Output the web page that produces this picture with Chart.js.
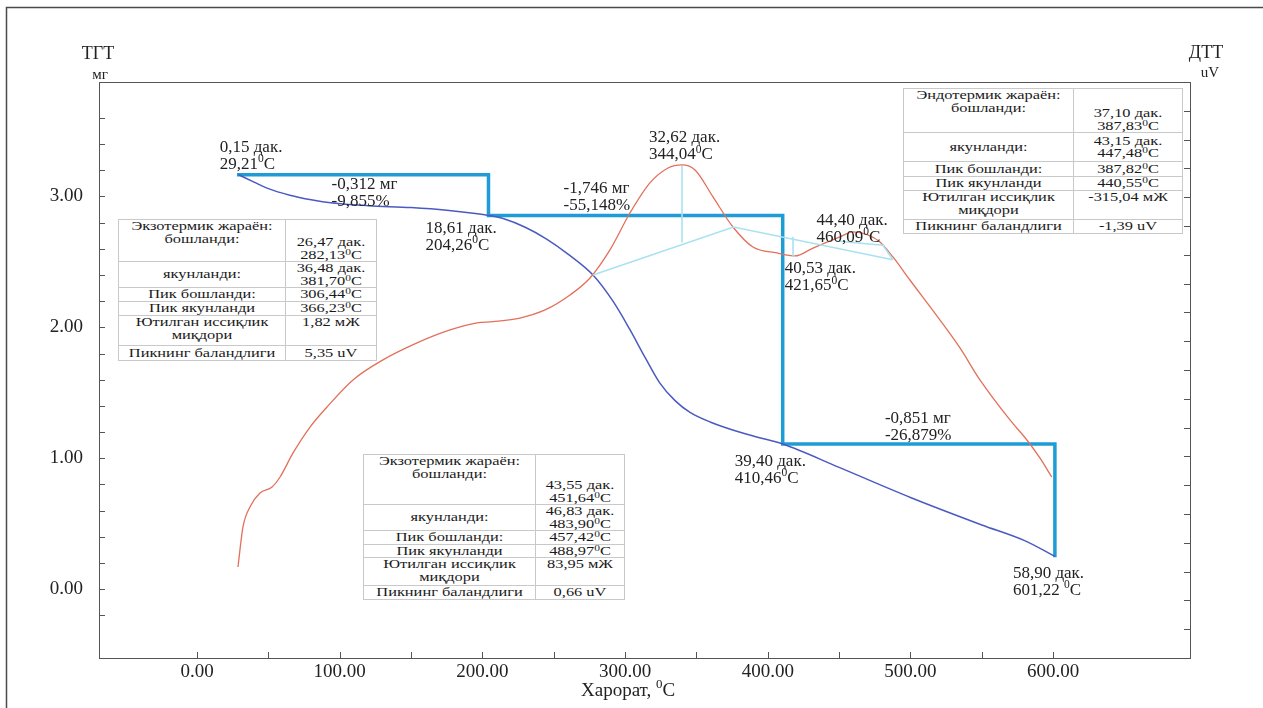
<!DOCTYPE html>
<html><head><meta charset="utf-8">
<script src="https://cdn.jsdelivr.net/npm/chart.js@4.4.1/dist/chart.umd.min.js"></script>
<style>
body{margin:0;background:#fff;}
#wrap{position:relative;width:1263px;height:708px;overflow:hidden;background:#fff;}
#c{position:absolute;left:0;top:0;}
.tbl{position:absolute;font-family:'Liberation Serif',serif;font-size:13px;line-height:12.5px;color:#1a1a1a;background:#fff;border:1px solid #c9c9c9;box-sizing:border-box;}
.row{display:flex;border-top:1px solid #c9c9c9;box-sizing:border-box;overflow:hidden;}
.row:first-child{border-top:none;}
.cell{display:flex;flex-direction:column;text-align:center;box-sizing:border-box;height:100%;}
.cell div{transform:scaleX(1.26);transform-origin:50% 50%;white-space:nowrap;}
.cl{border-right:1px solid #c9c9c9;}
.top{justify-content:flex-start;}
.mid{justify-content:center;}
.bot{justify-content:flex-end;}
sup{font-size:70%;line-height:0;vertical-align:0.45em;}
</style></head>
<body>
<div id="wrap">
<canvas id="c" width="1263" height="708"></canvas>
</div>
<script>
// ---------- data ----------
const tgaTemp = [29.2, 40, 50, 65, 80, 95, 120, 150, 175, 195, 204.3, 215, 230, 245, 260, 277.5, 291.5, 303, 314, 324, 335, 345.5, 360, 380, 395, 410.5, 450, 500, 550, 580, 601.2];
const tgaMass = [3.166, 3.11, 3.06, 3.01, 2.975, 2.95, 2.93, 2.915, 2.895, 2.87, 2.855, 2.83, 2.765, 2.675, 2.56, 2.40, 2.20, 1.99, 1.77, 1.58, 1.44, 1.35, 1.275, 1.20, 1.155, 1.108, 0.93, 0.70, 0.49, 0.37, 0.25];

const dtaTemp = [28.7, 32.2, 37.1, 44.1, 52.6, 58.2, 67.3, 79.2, 91.1, 109.3, 130.3, 154.2, 177.3, 196.2, 207.4, 226.3, 243.9, 261.4, 275.4, 289.4, 303.4, 317.4, 330.1, 339.9, 349, 361.6, 375.6, 389.6, 406.4, 419, 431.7, 450.6, 459.7, 470.2, 478.6, 487.7, 499.6, 520.7, 534.7, 548.7, 569.7, 581.6, 590.7, 599];
const dtaSignal = [-0.14, 2.64, 4.03, 5.0, 5.42, 6.11, 7.78, 9.58, 10.97, 12.85, 14.24, 15.42, 16.32, 16.81, 16.9, 17.15, 17.71, 18.75, 19.93, 21.88, 24.44, 26.53, 27.57, 27.78, 27.43, 25.56, 23.47, 22.08, 21.67, 21.46, 22.01, 22.78, 23.13, 22.92, 22.43, 21.39, 19.79, 17.01, 15.07, 12.85, 10.07, 8.68, 7.43, 6.11];

// baseline / peak construction lines on the DTA curve (null = break)
const baseTemp   = [277.5, 376, 487.7, null, 339.9, 339.9, null, 417.7, 417.7, null, 447.8, 480.7, 487.7];
const baseSignal = [20.14, 23.47, 21.2, null, 27.7, 22.4, null, 22.8, 21.4, null, 22.5, 22.2, 21.2];

// TG steps
const initialMass = 3.166;
const stepTemps = [29.21, 204.26, 410.46, 601.22];
const massLosses = [0.312, 1.746, 0.851];

// tick labels
const xLabelValues = [0, 100, 200, 300, 400, 500, 600];
const tgLabelValues = [0, 1, 2, 3];
const dtaLabelValues = [0, 10, 20, 30];

// annotation labels
const labelTexts = [
  ['0,15 дак.', '29,21⁰C'],
  ['-0,312 мг', '-9,855%'],
  ['18,61 дак.', '204,26⁰C'],
  ['-1,746 мг', '-55,148%'],
  ['32,62 дак.', '344,04⁰C'],
  ['44,40 дак.', '460,09⁰C'],
  ['40,53 дак.', '421,65⁰C'],
  ['-0,851 мг', '-26,879%'],
  ['39,40 дак.', '410,46⁰C'],
  ['58,90 дак.', '601,22 ⁰C']
];

// tables
const table1 = [
  ['Экзотермик жараён:|бошланди:', '26,47 дак.|282,13⁰C'],
  ['якунланди:', '36,48 дак.|381,70⁰C'],
  ['Пик бошланди:', '306,44⁰C'],
  ['Пик якунланди', '366,23⁰C'],
  ['Ютилган иссиқлик|миқдори', '1,82 мЖ'],
  ['Пикнинг баландлиги', '5,35 uV']
];
const table2 = [
  ['Эндотермик жараён:|бошланди:', '37,10 дак.|387,83⁰C'],
  ['якунланди:', '43,15 дак.|447,48⁰C'],
  ['Пик бошланди:', '387,82⁰C'],
  ['Пик якунланди', '440,55⁰C'],
  ['Ютилган иссиқлик|миқдори', '-315,04 мЖ'],
  ['Пикнинг баландлиги', '-1,39 uV']
];
const table3 = [
  ['Экзотермик жараён:|бошланди:', '43,55 дак.|451,64⁰C'],
  ['якунланди:', '46,83 дак.|483,90⁰C'],
  ['Пик бошланди:', '457,42⁰C'],
  ['Пик якунланди', '488,97⁰C'],
  ['Ютилган иссиқлик|миқдори', '83,95 мЖ'],
  ['Пикнинг баландлиги', '0,66 uV']
];

// ---------- build ----------
const pts = (xs, ys) => xs.map((x, i) => ({x: x, y: ys[i]}));
const stepPts = [];
let m = initialMass;
stepPts.push({x: stepTemps[0], y: m});
massLosses.forEach((d, i) => {
  stepPts.push({x: stepTemps[i + 1], y: m});
  m = +(m - d).toFixed(3);
  stepPts.push({x: stepTemps[i + 1], y: m});
});
const basePts = [];
baseTemp.forEach((t, i) => { if (t === null) basePts.push({x: baseTemp[i-1], y: null}); else basePts.push({x: t, y: baseSignal[i]}); });

// label anchors: [scale, x value, y value, dx, dy]
const massAfter = [initialMass, initialMass - massLosses[0], initialMass - massLosses[0] - massLosses[1], initialMass - massLosses[0] - massLosses[1] - massLosses[2]];
const labelAnchors = [
  ['y', stepTemps[0], massAfter[0], -19, -27],
  ['y', stepTemps[1], massAfter[0], -157, 10],
  ['y', stepTemps[1], massAfter[1], -63, 13],
  ['y', stepTemps[1], massAfter[1], 75, -27],
  ['y2', 344.04, 27.78, -39, -27],
  ['y2', 460.09, 23.13, -37, -11],
  ['y2', 421.65, 21.46, -14, 13],
  ['y', stepTemps[3], massAfter[2], -170, -26],
  ['y', stepTemps[2], massAfter[2], -48, 17],
  ['y', stepTemps[3], massAfter[3], -42, 18]
];

const SERIF = "'Liberation Serif', 'Times New Roman', serif";

function richWidth(ctx, str, size) {
  let w = 0;
  for (const ch of str) {
    if (ch === '⁰') { ctx.font = (size * 0.68) + 'px ' + SERIF; w += ctx.measureText('0').width; }
    else { ctx.font = size + 'px ' + SERIF; w += ctx.measureText(ch).width; }
  }
  return w;
}
function drawRich(ctx, str, x, y, size, align) {
  let w = richWidth(ctx, str, size);
  let cx = align === 'center' ? x - w / 2 : (align === 'right' ? x - w : x);
  ctx.textAlign = 'left';
  ctx.textBaseline = 'middle';
  let buf = '';
  const flush = () => { if (buf) { ctx.font = size + 'px ' + SERIF; ctx.fillText(buf, cx, y); cx += ctx.measureText(buf).width; buf = ''; } };
  for (const ch of str) {
    if (ch === '⁰') {
      flush();
      ctx.font = (size * 0.68) + 'px ' + SERIF;
      ctx.fillText('0', cx, y - size * 0.32);
      cx += ctx.measureText('0').width;
    } else buf += ch;
  }
  flush();
}

const decor = {
  id: 'decor',
  afterDraw(chart) {
    const ctx = chart.ctx, a = chart.chartArea;
    ctx.save();
    // outer frame
    ctx.strokeStyle = '#4a4a4a'; ctx.lineWidth = 1.5;
    ctx.beginPath(); ctx.moveTo(6.5, 708); ctx.lineTo(6.5, 7.5); ctx.lineTo(1263, 7.5); ctx.stroke();
    // plot frame
    ctx.strokeStyle = '#555'; ctx.lineWidth = 1;
    ctx.strokeRect(Math.round(a.left) + 0.5, Math.round(a.top) + 0.5, Math.round(a.right - a.left), Math.round(a.bottom - a.top));
    // inward ticks
    const L = 6;
    ['x', 'y', 'y2'].forEach(id => {
      const s = chart.scales[id];
      s.ticks.forEach(t => {
        const p = Math.round(s.getPixelForValue(t.value)) + 0.5;
        ctx.beginPath();
        if (id === 'x') { ctx.moveTo(p, a.bottom); ctx.lineTo(p, a.bottom - L); }
        else if (id === 'y') { ctx.moveTo(a.left, p); ctx.lineTo(a.left + L, p); }
        else { ctx.moveTo(a.right, p); ctx.lineTo(a.right - L, p); }
        ctx.stroke();
      });
    });
    // axis titles
    ctx.fillStyle = '#222';
    drawRich(ctx, 'ТГТ', 98, 54, 18, 'center');
    drawRich(ctx, 'мг', 100, 75, 15, 'center');
    drawRich(ctx, 'ДТТ', 1206, 53, 18, 'center');
    drawRich(ctx, 'uV', 1210, 73, 15, 'center');
    drawRich(ctx, 'Харорат, ⁰C', 629, 691, 19, 'center');
    // annotation labels
    labelAnchors.forEach((an, i) => {
      const px = chart.scales.x.getPixelForValue(an[1]);
      const py = chart.scales[an[0]].getPixelForValue(an[2]);
      const lines = labelTexts[i];
      lines.forEach((ln, j) => drawRich(ctx, ln, px + an[3], py + an[4] + j * 17, 17, 'left'));
    });
    ctx.restore();
  }
};

const tickCb = (vals) => function (v) {
  return vals.some(k => Math.abs(k - v) < 1e-6) ? Number(v).toFixed(2) : '';
};
const tickFont = {family: SERIF, size: 19};

new Chart(document.getElementById('c'), {
  type: 'line',
  data: {
    datasets: [
      {label: 'baseline', data: basePts, yAxisID: 'y2', borderColor: '#a8e2f0', borderWidth: 1.6, pointRadius: 0, tension: 0, spanGaps: false},
      {label: 'ДТТ', data: pts(dtaTemp, dtaSignal), yAxisID: 'y2', borderColor: '#e2705a', borderWidth: 1.3, pointRadius: 0, cubicInterpolationMode: 'monotone'},
      {label: 'ТГТ', data: pts(tgaTemp, tgaMass), yAxisID: 'y', borderColor: '#4b5ac2', borderWidth: 1.5, pointRadius: 0, cubicInterpolationMode: 'monotone'},
      {label: 'steps', data: stepPts, yAxisID: 'y', borderColor: '#1e9cd6', borderWidth: 3.5, pointRadius: 0, tension: 0, borderCapStyle: 'square', borderJoinStyle: 'miter'}
    ]
  },
  options: {
    responsive: false,
    animation: false,
    events: [],
    layout: {padding: {top: 82, left: 0, right: 0, bottom: 0}},
    plugins: {legend: {display: false}, tooltip: {enabled: false}},
    scales: {
      x: {
        type: 'linear', position: 'bottom', min: -68.7, max: 695.9,
        grid: {display: false, drawTicks: false}, border: {display: false},
        ticks: {stepSize: 50, autoSkip: false, maxRotation: 0, padding: 3, color: '#222', font: tickFont, callback: tickCb(xLabelValues)},
        afterFit: s => { s.height = 50; }
      },
      y: {
        type: 'linear', position: 'left', min: -0.527, max: 3.875,
        grid: {display: false, drawTicks: false}, border: {display: false},
        ticks: {stepSize: 0.2, autoSkip: false, padding: 16, color: '#222', font: tickFont, callback: tickCb(tgLabelValues)},
        afterFit: s => { s.width = 99; }
      },
      y2: {
        type: 'linear', position: 'right', min: -6.46, max: 33.54,
        grid: {display: false, drawTicks: false}, border: {display: false},
        ticks: {stepSize: 2, autoSkip: false, padding: 10, color: '#222', font: tickFont, callback: tickCb(dtaLabelValues)},
        afterFit: s => { s.width = 73; }
      }
    }
  },
  plugins: [decor]
});

// ---------- tables (HTML overlays) ----------
function fmt(s) { return s.split('|').map(p => '<div>' + p.replace(/⁰/g, '<sup>0</sup>') + '</div>').join(''); }
function buildTable(rows, left, top, width, split, heights, valigns) {
  const t = document.createElement('div');
  t.className = 'tbl';
  t.style.left = left + 'px'; t.style.top = top + 'px'; t.style.width = width + 'px';
  rows.forEach((r, i) => {
    const row = document.createElement('div');
    row.className = 'row';
    row.style.height = heights[i] + 'px';
    row.innerHTML = '<div class="cell cl ' + valigns[i][0] + '" style="width:' + split + 'px">' + fmt(r[0]) +
      '</div><div class="cell ' + valigns[i][1] + '" style="flex:1">' + fmt(r[1]) + '</div>';
    t.appendChild(row);
  });
  document.getElementById('wrap').appendChild(t);
}
const va = [['top', 'bot'], ['mid', 'mid'], ['mid', 'mid'], ['mid', 'mid'], ['top', 'top'], ['mid', 'mid']];
buildTable(table1, 118, 219, 259, 167, [41, 26, 14, 14, 30, 15], va);
buildTable(table2, 903, 88, 280, 170, [43, 29, 15, 14, 29, 14], va);
buildTable(table3, 363, 454, 262, 172, [49, 26, 14, 13, 28, 14], va);
</script>
</body></html>
